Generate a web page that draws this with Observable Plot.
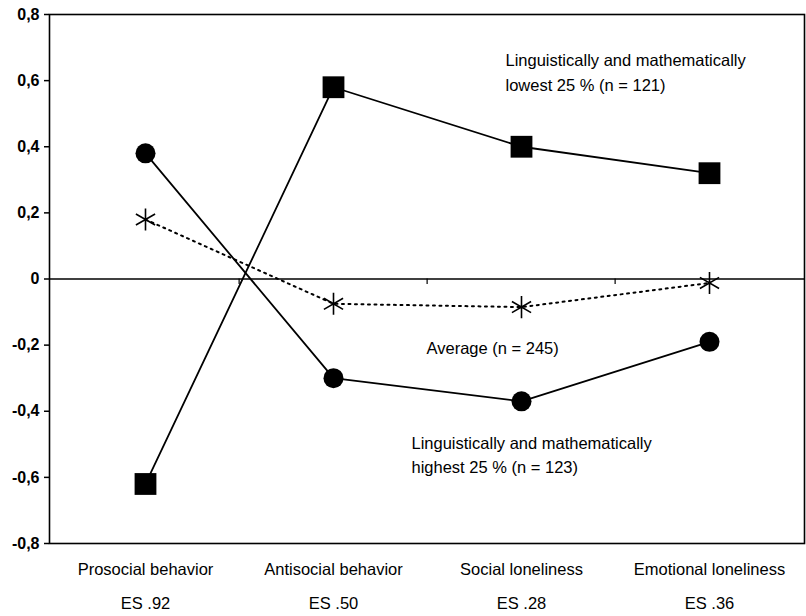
<!DOCTYPE html>
<html>
<head>
<meta charset="utf-8">
<script src="https://cdn.jsdelivr.net/npm/d3@7"></script>
<script src="https://cdn.jsdelivr.net/npm/@observablehq/plot@0.6"></script>
<style>
  html, body { margin: 0; padding: 0; background: #fff; }
  #chart svg { display: block; }
</style>
</head>
<body>
<div id="chart"></div>
<script>
const categories = ["Prosocial behavior", "Antisocial behavior", "Social loneliness", "Emotional loneliness"];
const effectSizes = ["ES .92", "ES .50", "ES .28", "ES .36"];
const lowest25 = [-0.62, 0.58, 0.40, 0.32];
const highest25 = [0.38, -0.30, -0.37, -0.19];
const average = [0.18, -0.075, -0.085, -0.012];
const yTicks = [-0.8, -0.6, -0.4, -0.2, 0, 0.2, 0.4, 0.6, 0.8];

const labelLowest = [{x: "Social loneliness", y: 0.696, text: "Linguistically and mathematically\nlowest 25 % (n = 121)"}];
const labelAverage = [{x: "Antisocial behavior", y: -0.173, text: "Average (n = 245)"}];
const labelHighest = [{x: "Antisocial behavior", y: -0.46, text: "Linguistically and mathematically\nhighest 25 % (n = 123)"}];

const rows = (vals) => categories.map((c, i) => ({cat: c, v: vals[i]}));
const W = 806, H = 616, mL = 49, mR = 2;
const bw = (W - mL - mR) / categories.length;
const textOpts = {x: "x", y: "y", text: "text", textAnchor: "start", lineAnchor: "top", lineHeight: 1.5, fontSize: 16.5, fill: "#000"};

const chart = Plot.plot({
  width: W,
  height: H,
  marginLeft: mL,
  marginRight: mR,
  marginTop: 14,
  marginBottom: 73,
  style: {fontFamily: "'Liberation Sans', Arial, sans-serif", color: "#000", background: "#fff"},
  x: {type: "band", domain: categories, padding: 0, axis: null},
  y: {domain: [-0.8, 0.8], axis: null},
  marks: [
    Plot.frame({stroke: "#000", strokeWidth: 1.6}),
    Plot.axisY({ticks: yTicks, tickSize: 5, tickPadding: 5, tickFormat: d => d === 0 ? "0" : d3.format(".1f")(d).replace(".", ",").replace("−", "-"), fontSize: 16, fontWeight: "bold", label: null, strokeWidth: 1.5}),
    Plot.axisX({tickSize: 0, tickPadding: 20, fontSize: 16.5, label: null}),
    Plot.axisX({tickSize: 0, tickPadding: 54, fontSize: 16.5, label: null, tickFormat: d => effectSizes[categories.indexOf(d)]}),
    Plot.ruleY([0], {stroke: "#000", strokeWidth: 1.5}),
    Plot.ruleX(categories.slice(1), {x: d => d, y1: 0, y2: -0.017, dx: -bw / 2, stroke: "#000", strokeWidth: 1.2}),
    Plot.line(rows(lowest25), {x: "cat", y: "v", stroke: "#000", strokeWidth: 1.8}),
    Plot.line(rows(highest25), {x: "cat", y: "v", stroke: "#000", strokeWidth: 1.8}),
    Plot.line(rows(average), {x: "cat", y: "v", stroke: "#000", strokeWidth: 2, strokeDasharray: "2,4.5"}),
    Plot.dot(rows(lowest25), {x: "cat", y: "v", symbol: "square", r: 12.3, fill: "#000", stroke: "none"}),
    Plot.dot(rows(highest25), {x: "cat", y: "v", symbol: "circle", r: 10, fill: "#000", stroke: "none"}),
    Plot.dot(rows(average), {x: "cat", y: "v", symbol: "asterisk", r: 10.5, fill: "none", stroke: "#000", strokeWidth: 1.6}),
    Plot.text(labelLowest, {...textOpts, dx: -16}),
    Plot.text(labelAverage, {...textOpts, dx: 93}),
    Plot.text(labelHighest, {...textOpts, dx: 78})
  ]
});
document.getElementById("chart").appendChild(chart);
</script>
</body>
</html>
